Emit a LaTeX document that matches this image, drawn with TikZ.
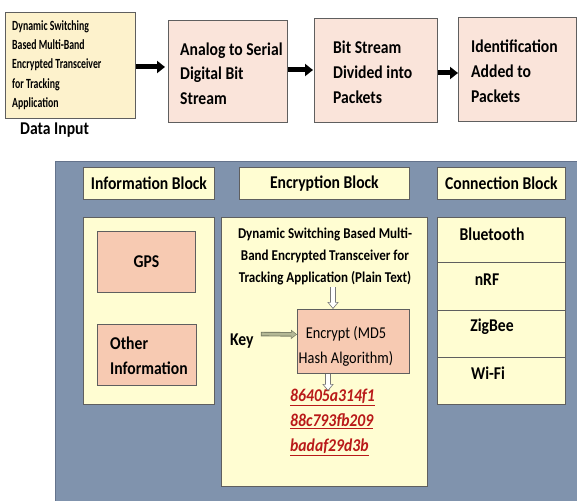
\documentclass[tikz,border=0pt]{standalone}
\usepackage{fontspec}
\setmainfont{Carlito}[FakeStretch=0.87]
\newfontfamily\narrowfont{Carlito}[FakeStretch=0.7]
\usetikzlibrary{arrows.meta}
\definecolor{panelbg}{RGB}{128,147,173}
\definecolor{paneledge}{RGB}{100,115,140}
\definecolor{inyellow}{RGB}{255,253,210}
\definecolor{boxone}{RGB}{253,242,204}
\definecolor{toppeach}{RGB}{250,228,218}
\definecolor{peach}{RGB}{247,202,178}
\definecolor{edge}{RGB}{95,95,95}
\definecolor{hashred}{RGB}{185,25,25}
\definecolor{hollowedge}{RGB}{120,120,120}
\definecolor{keyedge}{RGB}{120,124,100}
\definecolor{keyfill}{RGB}{180,184,150}
\begin{document}
\begin{tikzpicture}[x=1pt,y=-1pt,
  boxbase/.style={draw=edge, line width=0.8pt, anchor=north west, inner sep=0pt},
  topbox/.style={boxbase, fill=toppeach},
  toptxt/.style={anchor=west, inner sep=0pt, align=left, font=\fontsize{18}{25}\selectfont\bfseries},
  hdr/.style={boxbase, fill=inyellow, minimum height=32pt},
  inpanel/.style={boxbase, fill=inyellow},
  peachbox/.style={boxbase, fill=peach},
  lbl/.style={font=\fontsize{18}{25}\selectfont\bfseries, inner sep=0pt},
  bigarrow/.style={line width=5pt, -{Triangle[length=8pt,width=12pt]}},
]
\useasboundingbox (0,0) rectangle (577,500);
% top row
\node[boxbase, fill=boxone, minimum width=130pt, minimum height=106pt] (b1) at (5,12) {};
\node[anchor=west, inner sep=0pt, align=left, font=\narrowfont\fontsize{14}{19.2}\selectfont\bfseries] (t1) at (12,65)
  {Dynamic Switching\\Based Multi-Band\\Encrypted Transceiver\\for Tracking\\Application};
\node[lbl, anchor=west] (din) at (20,130) {Data Input};
\node[topbox, minimum width=119pt, minimum height=102pt] (b2) at (168,20) {};
\node[toptxt, font=\fontsize{18}{24.5}\selectfont\bfseries] (t2) at (180,73.5) {Analog to Serial\\Digital Bit\\Stream};
\node[topbox, minimum width=123pt, minimum height=104pt] (b3) at (314,18) {};
\node[toptxt] (t3) at (333,72) {Bit Stream\\Divided into\\Packets};
\node[topbox, minimum width=118pt, minimum height=104pt] (b4) at (458,17) {};
\node[toptxt] (t4) at (471,71.5) {Identification\\Added to\\Packets};
\draw[bigarrow, shorten >=3pt] (b1.east |- 0,67) -- (b2.west |- 0,67);
\draw[bigarrow, shorten >=1pt] (b2.east |- 0,70) -- (b3.west |- 0,70);
\draw[bigarrow] (b3.east |- 0,73) -- (b4.west |- 0,73);
% big panel
\node[anchor=north west, fill=panelbg, draw=paneledge, line width=0.8pt, minimum width=540pt, minimum height=350pt] (panel) at (55,161) {};
% headers
\node[hdr, minimum width=131pt] (infohdr) at (83,167) {};
\node[lbl] at (infohdr.center) {Information Block};
\node[hdr, minimum width=170pt] (enchdr) at (239,167) {};
\node[lbl] at (enchdr.center) {Encryption Block};
\node[hdr, minimum width=128pt] (connhdr) at (437,167) {};
\node[lbl] at (connhdr.center) {Connection Block};
% information block
\node[inpanel, minimum width=131pt, minimum height=187pt] (infop) at (83,217) {};
\node[peachbox, minimum width=98pt, minimum height=61pt] (gps) at (97,231) {};
\node[lbl] at (gps.center) {GPS};
\node[peachbox, minimum width=99pt, minimum height=61pt] (other) at (97,324) {};
\node[lbl, anchor=west, align=left] at (110,355.5) {Other\\Information};
% encryption block
\node[inpanel, minimum width=206pt, minimum height=269pt] (encp) at (221,217) {};
\node[inner sep=0pt, align=center, font=\fontsize{15}{22}\selectfont\bfseries] (plain) at (325,256)
  {Dynamic Switching Based Multi-\\Band Encrypted Transceiver for\\Tracking Application (Plain Text)};
\node[peachbox, minimum width=112pt, minimum height=64pt] (encbox) at (297,309) {};
\node[inner sep=0pt, align=center, font=\fontsize{16.5}{25}\selectfont] (enctxt) at (346,346) {Encrypt (MD5\\Hash Algorithm)};
\node[lbl, anchor=west] (key) at (230,341) {Key};
\node[inner sep=0pt, anchor=west, align=left, text=hashred, font=\fontsize{18}{25}\selectfont\bfseries\itshape] (hash) at (290,422)
  {\underline{86405a314f1}\\\underline{88c793fb209}\\\underline{badaf29d3b}};
\coordinate (a1) at (333,287);
\coordinate (a2) at (328,391);
\draw[hollowedge, line width=6pt, -{Triangle[length=7pt,width=11pt]}] (a1) -- (a1 |- encbox.north);
\draw[white, line width=4pt, shorten >=1.3pt, -{Triangle[length=5pt,width=8pt]}] (a1) -- (a1 |- encbox.north);
\draw[hollowedge, line width=6pt, -{Triangle[length=7pt,width=11pt]}] (encbox.south -| a2) -- (a2);
\draw[white, line width=4pt, shorten >=1.3pt, -{Triangle[length=5pt,width=8pt]}] (encbox.south -| a2) -- (a2);
\draw[keyedge, line width=4.5pt, shorten <=7pt, -{Triangle[length=6pt,width=9pt]}] ([yshift=7pt]key.east) -- ([yshift=7pt]encbox.west);
\draw[keyfill, line width=2.7pt, shorten <=7.9pt, shorten >=1pt, -{Triangle[length=4.5pt,width=6.5pt]}] ([yshift=7pt]key.east) -- ([yshift=7pt]encbox.west);
% connection block
\node[inpanel, minimum width=128pt, minimum height=45pt] (bt) at (437,217) {};
\node[inpanel, minimum width=128pt, minimum height=48pt] (nrf) at (437,262) {};
\node[inpanel, minimum width=128pt, minimum height=47pt] (zig) at (437,310) {};
\node[inpanel, minimum width=128pt, minimum height=47pt] (wifi) at (437,357) {};
\node[lbl] at (492,234) {Bluetooth};
\node[lbl] at (487,280) {nRF};
\node[lbl] at (492,327) {ZigBee};
\node[lbl] at (488,373) {Wi-Fi};
\end{tikzpicture}
\end{document}
